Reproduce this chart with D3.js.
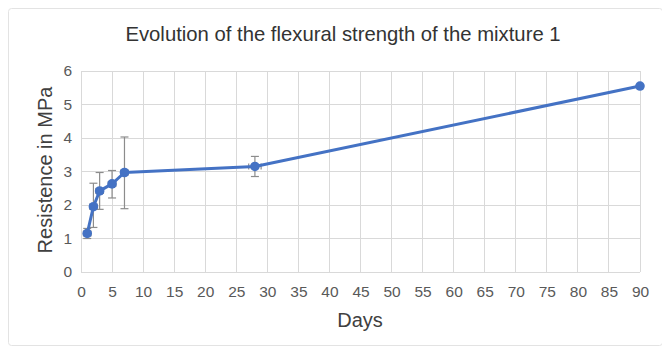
<!DOCTYPE html>
<html>
<head>
<meta charset="utf-8">
<script src="https://cdn.jsdelivr.net/npm/d3@7/dist/d3.min.js"></script>
<style>
  html, body { margin: 0; padding: 0; background: #fff; }
  svg { display: block; font-family: "Liberation Sans", Arial, sans-serif; }
</style>
</head>
<body>
<svg id="chart" width="662" height="351"></svg>
<script>
// Flexural strength of mixture 1 over curing time
const days = [1, 2, 3, 5, 7, 28, 90];
const strength = [1.15, 1.95, 2.42, 2.63, 2.97, 3.15, 5.55];
const errLow = [0.15, 0.62, 0.55, 0.42, 1.08, 0.30, 0.05];
const errHigh = [0.15, 0.70, 0.55, 0.40, 1.06, 0.30, 0.05];
const dayErr = [0.6, 0.6, 0.6, 0.6, 0.6, 1.0, 0.3];
const xTicks = d3.range(0, 91, 5);
const yTicks = [0, 1, 2, 3, 4, 5, 6];

const svg = d3.select("#chart");
const W = 662, H = 351;
const m = { left: 81, right: 22, top: 71, bottom: 79 };

// card frame
svg.append("rect")
  .attr("x", 8.5).attr("y", 8.5)
  .attr("width", W - 8).attr("height", H - 14)
  .attr("rx", 3)
  .attr("fill", "#fff").attr("stroke", "#e3e3e3");

const x = d3.scaleLinear().domain([0, 90]).range([m.left, W - m.right]);
const y = d3.scaleLinear().domain([0, 6]).range([H - m.bottom, m.top]);

// gridlines
svg.append("g")
  .selectAll("line.v").data(xTicks).join("line")
  .attr("x1", d => x(d)).attr("x2", d => x(d))
  .attr("y1", y(0)).attr("y2", y(6))
  .attr("stroke", "#d9d9d9").attr("stroke-width", 1)
  .attr("shape-rendering", "crispEdges");
svg.append("g")
  .selectAll("line.h").data(yTicks).join("line")
  .attr("x1", x(0)).attr("x2", x(90))
  .attr("y1", d => y(d)).attr("y2", d => y(d))
  .attr("stroke", "#d9d9d9").attr("stroke-width", 1)
  .attr("shape-rendering", "crispEdges");

// axes (labels only)
const xAxis = svg.append("g")
  .attr("transform", `translate(0,${y(0)})`)
  .call(d3.axisBottom(x).tickValues(xTicks).tickFormat(d3.format("d")).tickSize(0).tickPadding(14));
const yAxis = svg.append("g")
  .attr("transform", `translate(${x(0)},0)`)
  .call(d3.axisLeft(y).tickValues(yTicks).tickFormat(d3.format("d")).tickSize(0).tickPadding(9));
[xAxis, yAxis].forEach(g => {
  g.select(".domain").remove();
  g.selectAll("text").attr("fill", "#595959").attr("font-size", 15.5)
    .attr("font-family", "'Liberation Sans', Arial, sans-serif");
});

// titles
svg.append("text")
  .attr("x", 343).attr("y", 41)
  .attr("text-anchor", "middle")
  .attr("font-size", 20.3).attr("fill", "#333")
  .text("Evolution of the flexural strength of the mixture 1");
svg.append("text")
  .attr("x", 360).attr("y", 327)
  .attr("text-anchor", "middle")
  .attr("font-size", 20).attr("fill", "#404040")
  .text("Days");
svg.append("text")
  .attr("transform", `translate(52,170) rotate(-90)`)
  .attr("text-anchor", "middle")
  .attr("font-size", 20).attr("fill", "#404040")
  .text("Resistence in MPa");

const pts = days.map((d, i) => ({ d, v: strength[i], lo: errLow[i], hi: errHigh[i], dx: dayErr[i] }));

// error bars
const eb = svg.append("g").attr("stroke", "#8c8c8c").attr("stroke-width", 1.2).attr("fill", "none");
pts.forEach(p => {
  const cx = x(p.d);
  eb.append("line").attr("x1", cx).attr("x2", cx).attr("y1", y(p.v - p.lo)).attr("y2", y(p.v + p.hi));
  [p.v - p.lo, p.v + p.hi].forEach(v =>
    eb.append("line").attr("x1", cx - 4).attr("x2", cx + 4).attr("y1", y(v)).attr("y2", y(v)));
  eb.append("line").attr("x1", x(p.d - p.dx)).attr("x2", x(p.d + p.dx)).attr("y1", y(p.v)).attr("y2", y(p.v));
  [p.d - p.dx, p.d + p.dx].forEach(d =>
    eb.append("line").attr("x1", x(d)).attr("x2", x(d)).attr("y1", y(p.v) - 3).attr("y2", y(p.v) + 3));
});

// series line
svg.append("path")
  .datum(pts)
  .attr("d", d3.line().x(p => x(p.d)).y(p => y(p.v)))
  .attr("fill", "none").attr("stroke", "#4472c4").attr("stroke-width", 3)
  .attr("stroke-linejoin", "round");

// markers
svg.append("g").selectAll("circle").data(pts).join("circle")
  .attr("cx", p => x(p.d)).attr("cy", p => y(p.v)).attr("r", 4.8)
  .attr("fill", "#4472c4");
</script>
</body>
</html>
